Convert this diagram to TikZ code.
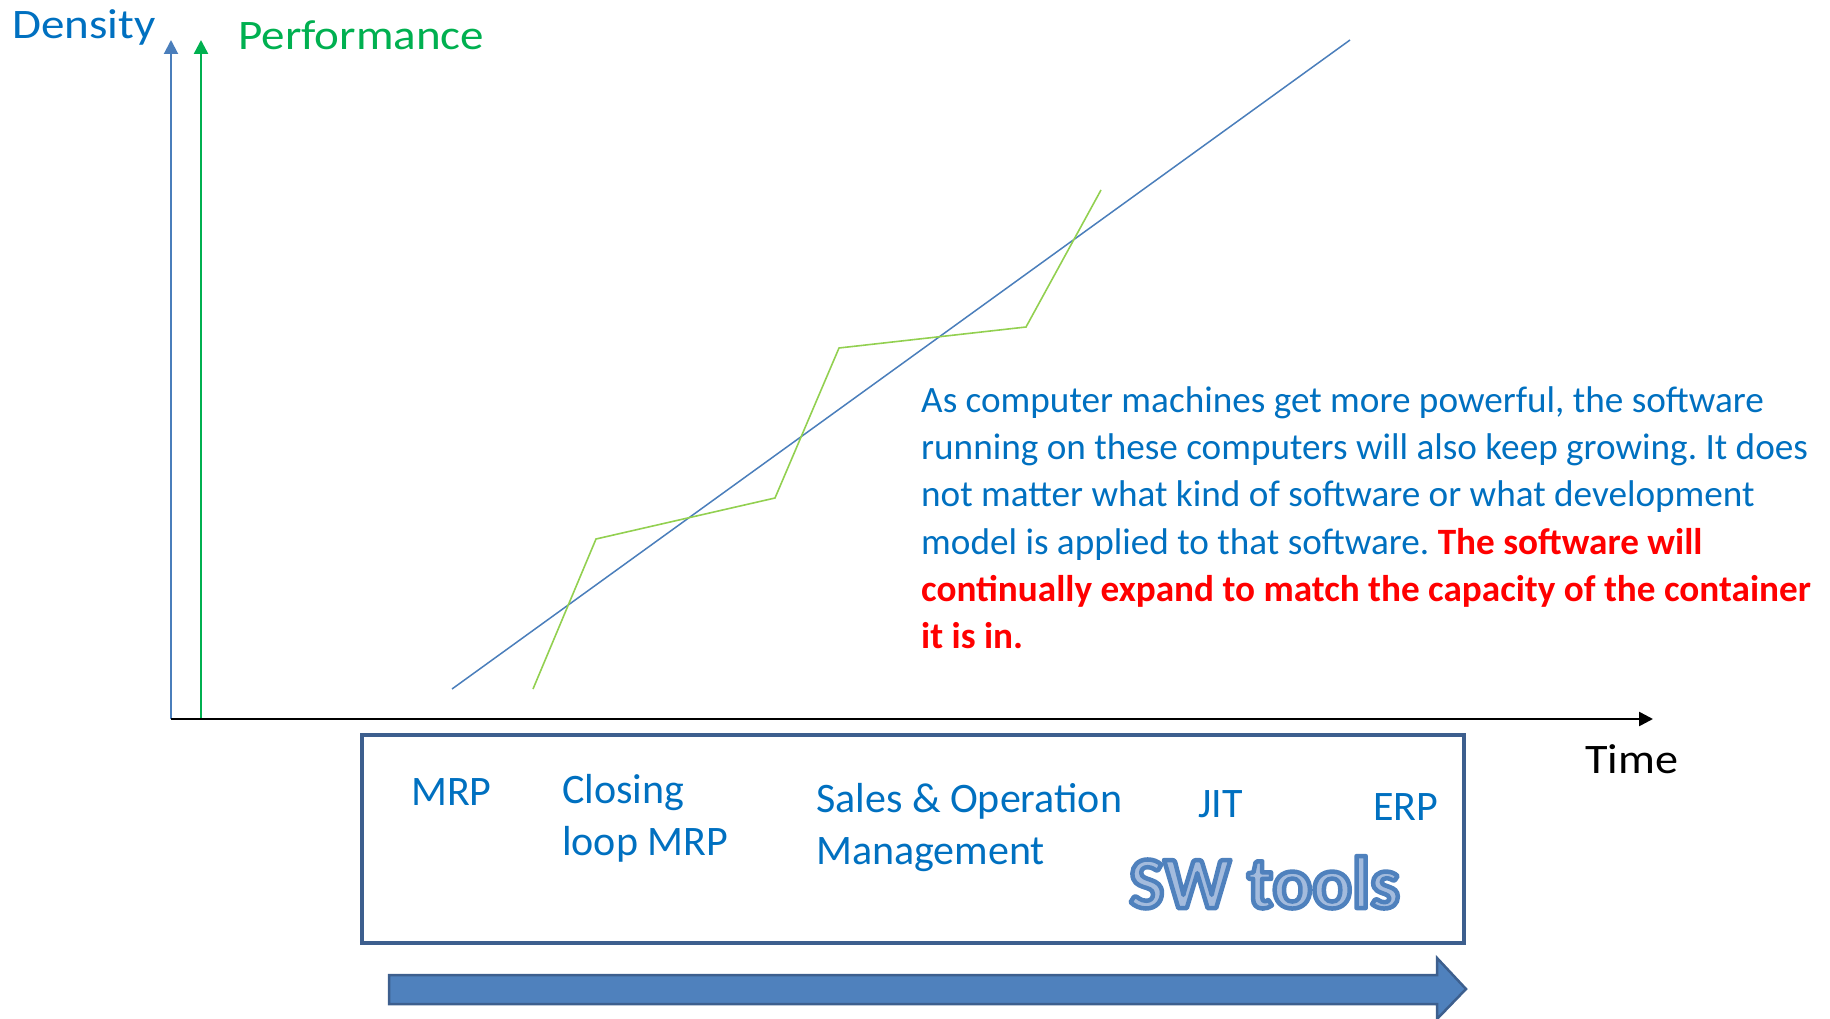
\documentclass[tikz,border=0pt]{standalone}
\usepackage{fontspec}
\setmainfont{Carlito}
\usetikzlibrary{arrows.meta,calc}
\definecolor{txtblue}{HTML}{0070C0}
\definecolor{txtgreen}{HTML}{00B050}
\definecolor{axblue}{HTML}{4A7EBB}
\definecolor{datagreen}{HTML}{92D050}
\definecolor{boxblue}{HTML}{3D5F8E}
\definecolor{arrfill}{HTML}{4F81BD}
\definecolor{swfill}{HTML}{A3BBDD}
\frenchspacing
\tikzset{
  lbl/.style={inner sep=0pt, anchor=base west},
  para/.style={lbl, text=txtblue, font=\fontsize{37.2}{47}\selectfont},
  boxlbl/.style={lbl, text=txtblue, font=\fontsize{42}{50}\selectfont},
  axtitle/.style={lbl, font=\fontsize{42}{50}\selectfont},
  tip/.style={-{Triangle[length=14pt,width=14pt]}},
}
\begin{document}
\begin{tikzpicture}[x=1pt,y=-1pt]
\useasboundingbox (0,0) rectangle (1830,1019);
% axes
\coordinate (o1) at (171,719);
\coordinate (t1) at (171,40);
\coordinate (o2) at (201,719);
\coordinate (t2) at (201,40);
\coordinate (xe) at (1653,719);
\draw[axblue, line width=2pt, tip] (o1) -- (t1);
\draw[txtgreen, line width=2.5pt, tip] (o2) -- (t2);
\draw[black, line width=2.5pt, tip] (o1) -- (xe);
% titles
\node[axtitle, text=txtblue, xscale=1.12] (dens) at (12,39) {Density};
\node[axtitle, text=txtgreen, xscale=1.12] (perf) at (238,50) {Performance};
\node[axtitle, text=black, xscale=1.1] (time) at (1585,773) {Time};
% data lines
\draw[axblue, line width=1.5pt] (452,689) -- (1350,40);
\draw[datagreen, line width=1.6pt] (533,689) -- (596,539) -- (775,498) -- (839,348) -- (1026,327) -- (1101,190);
% paragraph
\node[para] (p1) at (921,412) {As computer machines get more powerful, the software};
\node[para] (p2) at (921,459) {running on these computers will also keep growing. It does};
\node[para] (p3) at (921,506) {not matter what kind of software or what development};
\node[para] (p4) at (921,554) {model is applied to that software. \textcolor{red}{\bfseries The software will}};
\node[para, text=red, font=\fontsize{37.2}{47}\selectfont\bfseries] (p5) at (921,601) {continually expand to match the capacity of the container};
\node[para, text=red, font=\fontsize{37.2}{47}\selectfont\bfseries] (p6) at (921,648) {it is in.};
% box
\draw[boxblue, line width=4.5pt] (362,735) rectangle (1464,943);
\node[boxlbl] (mrp) at (411,805) {MRP};
\node[boxlbl] (cl1) at (562,803) {Closing};
\node[boxlbl] (cl2) at (562,855) {loop MRP};
\node[boxlbl] (so1) at (816,812) {Sales \& Operation};
\node[boxlbl] (so2) at (816,864) {Management};
\node[boxlbl] (jit) at (1198,817) {JIT};
\node[boxlbl] (erp) at (1373,820) {ERP};
% SW tools (filled and outlined text)
\node[lbl, text=swfill, font=\fontsize{74}{80}\selectfont\bfseries] (sw) at (1129,908)
  {\special{pdf:literal direct 0.31 0.506 0.741 RG 4.5 w 1 j 2 Tr}SW tools\special{pdf:literal direct 0 Tr}};
% big arrow
\draw[boxblue, line width=2.5pt, fill=arrfill, line join=miter]
  (389,975) -- (1437,975) -- (1437,958) -- (1466,989) -- (1437,1019) -- (1437,1004) -- (389,1004) -- cycle;
\end{tikzpicture}
\end{document}
